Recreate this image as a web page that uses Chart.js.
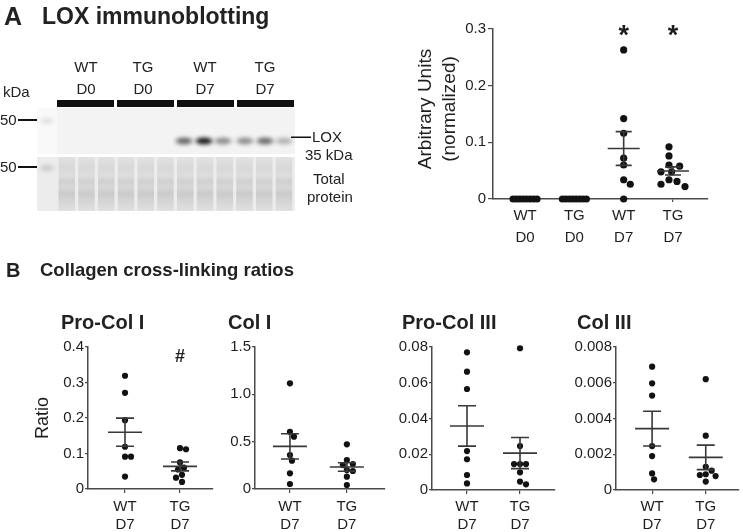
<!DOCTYPE html>
<html>
<head>
<meta charset="utf-8">
<script src="https://cdn.jsdelivr.net/npm/chart.js@4.4.1/dist/chart.umd.min.js"></script>
<style>
  body { margin: 0; background: #fff; }
  #fig { position: relative; width: 743px; height: 532px; overflow: hidden;
         font-family: 'Liberation Sans', Arial, sans-serif; color: #222; }
  .t { position: absolute; white-space: nowrap; }
  .grp { position: absolute; width: 60px; text-align: center; font-size: 15px; line-height: 22px; }
  .lbl { position: absolute; white-space: nowrap; font-size: 15px; line-height: 20px; }
  .ttl { position: absolute; white-space: nowrap; font-weight: bold; font-size: 20px; line-height: 20px; }
  canvas.plot { position: absolute; }
</style>
</head>
<body>
<div id="fig">
  <canvas id="blot" width="743" height="532" style="position:absolute;left:0;top:0"></canvas>

  <div class="t" style="left:4px;top:4px;font-weight:bold;font-size:25px;line-height:25px">A</div>
  <div class="t" style="left:42px;top:5px;font-weight:bold;font-size:23px;line-height:23px">LOX immunoblotting</div>

  <div class="grp" style="left:56px;top:56px">WT<br>D0</div>
  <div class="grp" style="left:113px;top:56px">TG<br>D0</div>
  <div class="grp" style="left:175px;top:56px">WT<br>D7</div>
  <div class="grp" style="left:235px;top:56px">TG<br>D7</div>
  <div class="lbl" style="left:3px;top:82px">kDa</div>
  <div class="lbl" style="left:0px;top:110px">50</div>
  <div class="lbl" style="left:0px;top:157px">50</div>
  <div class="lbl" style="left:312px;top:127px">LOX</div>
  <div class="lbl" style="left:305px;top:145px">35 kDa</div>
  <div class="lbl" style="left:313px;top:169px">Total</div>
  <div class="lbl" style="left:307px;top:187px">protein</div>

  <div class="t" style="left:6px;top:260px;font-weight:bold;font-size:20px;line-height:20px">B</div>
  <div class="t" style="left:40px;top:260px;font-weight:bold;font-size:18.5px;line-height:20px">Collagen cross-linking ratios</div>

  <div class="ttl" style="left:61px;top:312px">Pro-Col I</div>
  <div class="ttl" style="left:228px;top:312px">Col I</div>
  <div class="ttl" style="left:402px;top:312px">Pro-Col III</div>
  <div class="ttl" style="left:577px;top:312px">Col III</div>

  <canvas id="loxChart" class="plot"></canvas>
  <canvas id="proColIChart" class="plot"></canvas>
  <canvas id="colIChart" class="plot"></canvas>
  <canvas id="proColIIIChart" class="plot"></canvas>
  <canvas id="colIIIChart" class="plot"></canvas>
</div>

<script>
// LOX densitometry (arbitrary units, normalized)
const loxLabels = [['WT', 'D0'], ['TG', 'D0'], ['WT', 'D7'], ['TG', 'D7']];
const loxWTD0 = [0, 0, 0, 0, 0, 0, 0, 0];
const loxTGD0 = [0, 0, 0, 0, 0, 0, 0, 0];
const loxWTD7 = [0.263, 0.142, 0.116, 0.072, 0.060, 0.034, 0.026, 0];
const loxTGD7 = [0.092, 0.076, 0.060, 0.058, 0.048, 0.048, 0.034, 0.031, 0.026, 0.022];
const loxTicks = [0, 0.1, 0.2, 0.3];
const loxTickLabels = ['0', '0.1', '0.2', '0.3'];
const loxMarks = ['', '', '*', '*'];

// collagen cross-linking ratios, day 7
const d7Labels = [['WT', 'D7'], ['TG', 'D7']];
const proColIWT = [0.319, 0.271, 0.194, 0.119, 0.091, 0.091, 0.035];
const proColITG = [0.115, 0.112, 0.075, 0.060, 0.055, 0.040, 0.032, 0.020];
const proColITicks = [0, 0.1, 0.2, 0.3, 0.4];
const proColITickLabels = ['0', '0.1', '0.2', '0.3', '0.4'];
const proColIMarks = ['', '#'];

const colIWT = [1.116, 0.605, 0.553, 0.359, 0.299, 0.166, 0.053];
const colITG = [0.472, 0.306, 0.264, 0.253, 0.200, 0.190, 0.130, 0.042];
const colITicks = [0, 0.5, 1.0, 1.5];
const colITickLabels = ['0', '0.5', '1.0', '1.5'];

const proColIIIWT = [0.0770, 0.0662, 0.0565, 0.0218, 0.0172, 0.0084, 0.0037];
const proColIIITG = [0.0793, 0.0246, 0.0145, 0.0145, 0.0145, 0.0099, 0.0047, 0.0032];
const proColIIITicks = [0, 0.02, 0.04, 0.06, 0.08];
const proColIIITickLabels = ['0', '0.02', '0.04', '0.06', '0.08'];

const colIIIWT = [0.0069, 0.00597, 0.00528, 0.00246, 0.0019, 0.00093, 0.0006];
const colIIITG = [0.0062, 0.00304, 0.0013, 0.00108, 0.00088, 0.00084, 0.00078, 0.00047];
const colIIITicks = [0, 0.002, 0.004, 0.006, 0.008];
const colIIITickLabels = ['0', '0.002', '0.004', '0.006', '0.008'];

const FONT = "'Liberation Sans', Arial, sans-serif";
const TEXT = '#1e1e1e';
const AXIS = '#4a4a4a';
const DOT = '#121212';
const BAR = '#383838';

// mean ± SEM bars, significance marks and the rotated y title
function drawExtras(chart, cfg) {
    const { ctx, chartArea } = chart;
    const x = chart.scales.x, y = chart.scales.y;
    ctx.save();
    ctx.strokeStyle = BAR;
    ctx.lineWidth = 1.6;
    cfg.groups.forEach((vals, i) => {
        const n = vals.length;
        const m = vals.reduce((a, b) => a + b, 0) / n;
        const sd = Math.sqrt(vals.reduce((a, b) => a + (b - m) ** 2, 0) / (n - 1));
        const se = sd / Math.sqrt(n);
        if (se === 0) return;
        const cx = x.getPixelForValue(i);
        const ym = y.getPixelForValue(m);
        const yHi = y.getPixelForValue(m + se);
        const yLo = y.getPixelForValue(m - se);
        ctx.beginPath();
        ctx.moveTo(cx - cfg.meanHalf, ym); ctx.lineTo(cx + cfg.meanHalf, ym);
        ctx.moveTo(cx, yHi); ctx.lineTo(cx, yLo);
        ctx.moveTo(cx - cfg.capHalf, yHi); ctx.lineTo(cx + cfg.capHalf, yHi);
        ctx.moveTo(cx - cfg.capHalf, yLo); ctx.lineTo(cx + cfg.capHalf, yLo);
        ctx.stroke();
    });

    ctx.fillStyle = TEXT;
    ctx.textAlign = 'center';
    if (cfg.marks) {
        ctx.font = cfg.markFont;
        ctx.textBaseline = 'alphabetic';
        cfg.marks.forEach((t, i) => {
            if (t) ctx.fillText(t, x.getPixelForValue(i), chartArea.top + cfg.markDy);
        });
    }
    if (cfg.title) {
        ctx.font = cfg.titleFont;
        ctx.textBaseline = 'middle';
        cfg.title.forEach((line, k) => {
            ctx.save();
            ctx.translate(cfg.titleX[k], cfg.titleY);
            ctx.rotate(-Math.PI / 2);
            ctx.fillText(line, 0, 0);
            ctx.restore();
        });
    }
    ctx.restore();
}

// simple beeswarm: spread points sideways so they don't overlap
function placePoints(chart, cfg) {
    const xs = chart.scales.x, ys = chart.scales.y;
    const unit = xs.getPixelForValue(1) - xs.getPixelForValue(0);
    const pts = [];
    cfg.groups.forEach((vals, gi) => {
        const placed = [];
        vals.slice().sort((a, b) => b - a).forEach(v => {
            const py = ys.getPixelForValue(v);
            let dx = 0;
            for (let k = 0; k < 60; k++) {
                const cand = (k % 2 ? 1 : -1) * Math.ceil(k / 2) * cfg.step;
                if (placed.every(p => Math.hypot(cand - p.dx, py - p.py) >= cfg.minD)) { dx = cand; break; }
            }
            placed.push({ dx, py, v });
        });
        const lo = Math.min(...placed.map(p => p.dx));
        const hi = Math.max(...placed.map(p => p.dx));
        const span = Math.max(Math.abs(lo), Math.abs(hi));
        let f = 1, shift = 0;
        if (span > cfg.maxHalf) {
            shift = -(lo + hi) / 2;
            f = cfg.maxHalf / ((hi - lo) / 2);
        }
        placed.forEach(p => pts.push({ x: gi + (p.dx + shift) * f / unit, y: p.v }));
    });
    chart.data.datasets[0].data = pts;
    chart.update('none');
}

function makePlot(id, box, area, cfg) {
    const cv = document.getElementById(id);
    cv.width = box.w;
    cv.height = box.h;
    cv.style.left = box.x + 'px';
    cv.style.top = box.y + 'px';
    const tickFont = { family: FONT, size: 15 };
    const chart = new Chart(cv, {
        type: 'scatter',
        data: {
            datasets: [{
                data: [],
                pointRadius: cfg.r,
                pointBackgroundColor: DOT,
                pointBorderWidth: 0,
                clip: false
            }]
        },
        options: {
            responsive: false,
            animation: false,
            events: [],
            layout: { padding: { top: area.top - box.y, right: box.x + box.w - area.right, left: 0, bottom: 0 } },
            plugins: { legend: { display: false }, tooltip: { enabled: false } },
            scales: {
                x: {
                    type: 'linear',
                    min: cfg.xMin,
                    max: cfg.xMax,
                    afterBuildTicks: s => { s.ticks = cfg.labels.map((_, i) => ({ value: i })); },
                    afterFit: s => { s.height = box.y + box.h - area.bottom; },
                    ticks: {
                        callback: v => cfg.labels[v],
                        autoSkip: false, maxRotation: 0,
                        font: Object.assign({ lineHeight: cfg.xLine + 'px' }, tickFont),
                        color: TEXT, padding: cfg.xPad
                    },
                    grid: { display: true, drawOnChartArea: false, drawTicks: true, tickLength: cfg.xTick, color: AXIS, lineWidth: 1.2 },
                    border: { display: true, color: AXIS, width: 1.5 }
                },
                y: {
                    min: 0,
                    max: cfg.yMax,
                    afterBuildTicks: s => { s.ticks = cfg.yTicks.map(v => ({ value: v })); },
                    afterFit: s => { s.width = area.left - box.x; },
                    ticks: {
                        callback: (v, i) => cfg.yTickLabels[i],
                        font: tickFont, color: TEXT, padding: cfg.yPad
                    },
                    grid: { display: true, drawOnChartArea: false, drawTicks: true, tickLength: cfg.yTick, color: AXIS, lineWidth: 1.2 },
                    border: { display: true, color: AXIS, width: 1.5 }
                }
            }
        },
        plugins: [{ id: 'extras', afterDatasetsDraw: c => drawExtras(c, cfg) }]
    });
    placePoints(chart, cfg);
    return chart;
}

function drawBlot() {
    const c = document.getElementById('blot').getContext('2d');
    // group bars
    c.fillStyle = '#111';
    [[57, 114], [117, 174], [177, 234], [237, 294]].forEach(([a, b]) => c.fillRect(a, 100, b - a, 7));

    // LOX membrane
    c.fillStyle = '#f3f3f3';
    c.fillRect(37, 108, 258, 46);
    c.fillStyle = '#f9f9f9';
    c.fillRect(37, 108, 20, 46);
    c.filter = 'blur(2px)';
    c.fillStyle = 'rgba(0,0,0,0.10)';
    c.beginPath(); c.ellipse(47, 121, 7, 3, 0, 0, Math.PI * 2); c.fill();
    const bandX = [184, 204, 223, 245, 265, 284];
    const bandA = [0.62, 0.98, 0.45, 0.45, 0.6, 0.28];
    bandX.forEach((bx, i) => {
        c.fillStyle = 'rgba(10,10,10,' + bandA[i] + ')';
        c.beginPath(); c.ellipse(bx, 141, 8.5, 3.2, 0, 0, Math.PI * 2); c.fill();
    });
    c.filter = 'none';

    // total protein stain
    c.fillStyle = '#ececec';
    c.fillRect(37, 157, 258, 54);
    for (let i = 0; i < 12; i++) {
        const x0 = 57 + i * 19.75;
        const g = c.createLinearGradient(0, 157, 0, 211);
        g.addColorStop(0, '#e2e2e2');
        g.addColorStop(0.2, '#d8d8d8');
        g.addColorStop(0.35, '#dddddd');
        g.addColorStop(0.45, '#d0d0d0');
        g.addColorStop(0.55, '#d7d7d7');
        g.addColorStop(0.68, '#cbcbcb');
        g.addColorStop(0.82, '#d5d5d5');
        g.addColorStop(1, '#e0e0e0');
        c.fillStyle = g;
        c.fillRect(x0 + 1.5, 157, 16.5, 54);
    }
    c.filter = 'blur(2px)';
    c.fillStyle = 'rgba(0,0,0,0.14)';
    c.beginPath(); c.ellipse(47, 168, 7, 3, 0, 0, Math.PI * 2); c.fill();
    c.filter = 'none';

    // markers and pointer
    c.fillStyle = '#111';
    c.fillRect(18, 119, 19, 2);
    c.fillRect(18, 166, 19, 2);
    c.fillRect(291, 136.5, 20, 1.5);
}

drawBlot();

makePlot('loxChart', { x: 400, y: 0, w: 343, h: 260 }, { left: 493, top: 29, right: 708, bottom: 199 }, {
    groups: [loxWTD0, loxTGD0, loxWTD7, loxTGD7],
    labels: loxLabels, xMin: -0.65, xMax: 3.71,
    yMax: 0.3, yTicks: loxTicks, yTickLabels: loxTickLabels,
    xLine: 22, xPad: 3, xTick: 3, yPad: 2, yTick: 5,
    r: 3.6, step: 2.2, minD: 6.8, maxHalf: 12,
    meanHalf: 16, capHalf: 8,
    marks: loxMarks, markFont: 'bold 27px ' + FONT, markDy: 15,
    title: ['Arbitrary Units', '(normalized)'], titleFont: '19px ' + FONT, titleX: [26, 50], titleY: 109
});

makePlot('proColIChart', { x: 0, y: 330, w: 222, h: 202 }, { left: 88, top: 347, right: 213, bottom: 489 }, {
    groups: [proColIWT, proColITG],
    labels: d7Labels, xMin: -0.673, xMax: 1.6,
    yMax: 0.4, yTicks: proColITicks, yTickLabels: proColITickLabels,
    xLine: 18, xPad: 5, xTick: 4, yPad: 1, yTick: 3,
    r: 3.1, step: 2, minD: 6, maxHalf: 10,
    meanHalf: 17, capHalf: 9,
    marks: proColIMarks, markFont: 'bold 18px ' + FONT, markDy: 15,
    title: ['Ratio'], titleFont: '18px ' + FONT, titleX: [43], titleY: 88
});

makePlot('colIChart', { x: 222, y: 330, w: 168, h: 202 }, { left: 255, top: 347, right: 385, bottom: 489 }, {
    groups: [colIWT, colITG],
    labels: d7Labels, xMin: -0.614, xMax: 1.67,
    yMax: 1.5, yTicks: colITicks, yTickLabels: colITickLabels,
    xLine: 18, xPad: 5, xTick: 4, yPad: 1, yTick: 3,
    r: 3.1, step: 2, minD: 6, maxHalf: 10,
    meanHalf: 17, capHalf: 9
});

makePlot('proColIIIChart', { x: 390, y: 330, w: 172, h: 202 }, { left: 432, top: 347, right: 555, bottom: 490 }, {
    groups: [proColIIIWT, proColIIITG],
    labels: d7Labels, xMin: -0.66, xMax: 1.66,
    yMax: 0.08, yTicks: proColIIITicks, yTickLabels: proColIIITickLabels,
    xLine: 18, xPad: 4, xTick: 4, yPad: 1, yTick: 3,
    r: 3.1, step: 2, minD: 6, maxHalf: 10,
    meanHalf: 17, capHalf: 9
});

makePlot('colIIIChart', { x: 566, y: 330, w: 177, h: 202 }, { left: 616, top: 347, right: 741, bottom: 490 }, {
    groups: [colIIIWT, colIIITG],
    labels: d7Labels, xMin: -0.673, xMax: 1.62,
    yMax: 0.008, yTicks: colIIITicks, yTickLabels: colIIITickLabels,
    xLine: 18, xPad: 4, xTick: 4, yPad: 1, yTick: 3,
    r: 3.1, step: 2, minD: 6, maxHalf: 10,
    meanHalf: 17, capHalf: 9
});
</script>
</body>
</html>
